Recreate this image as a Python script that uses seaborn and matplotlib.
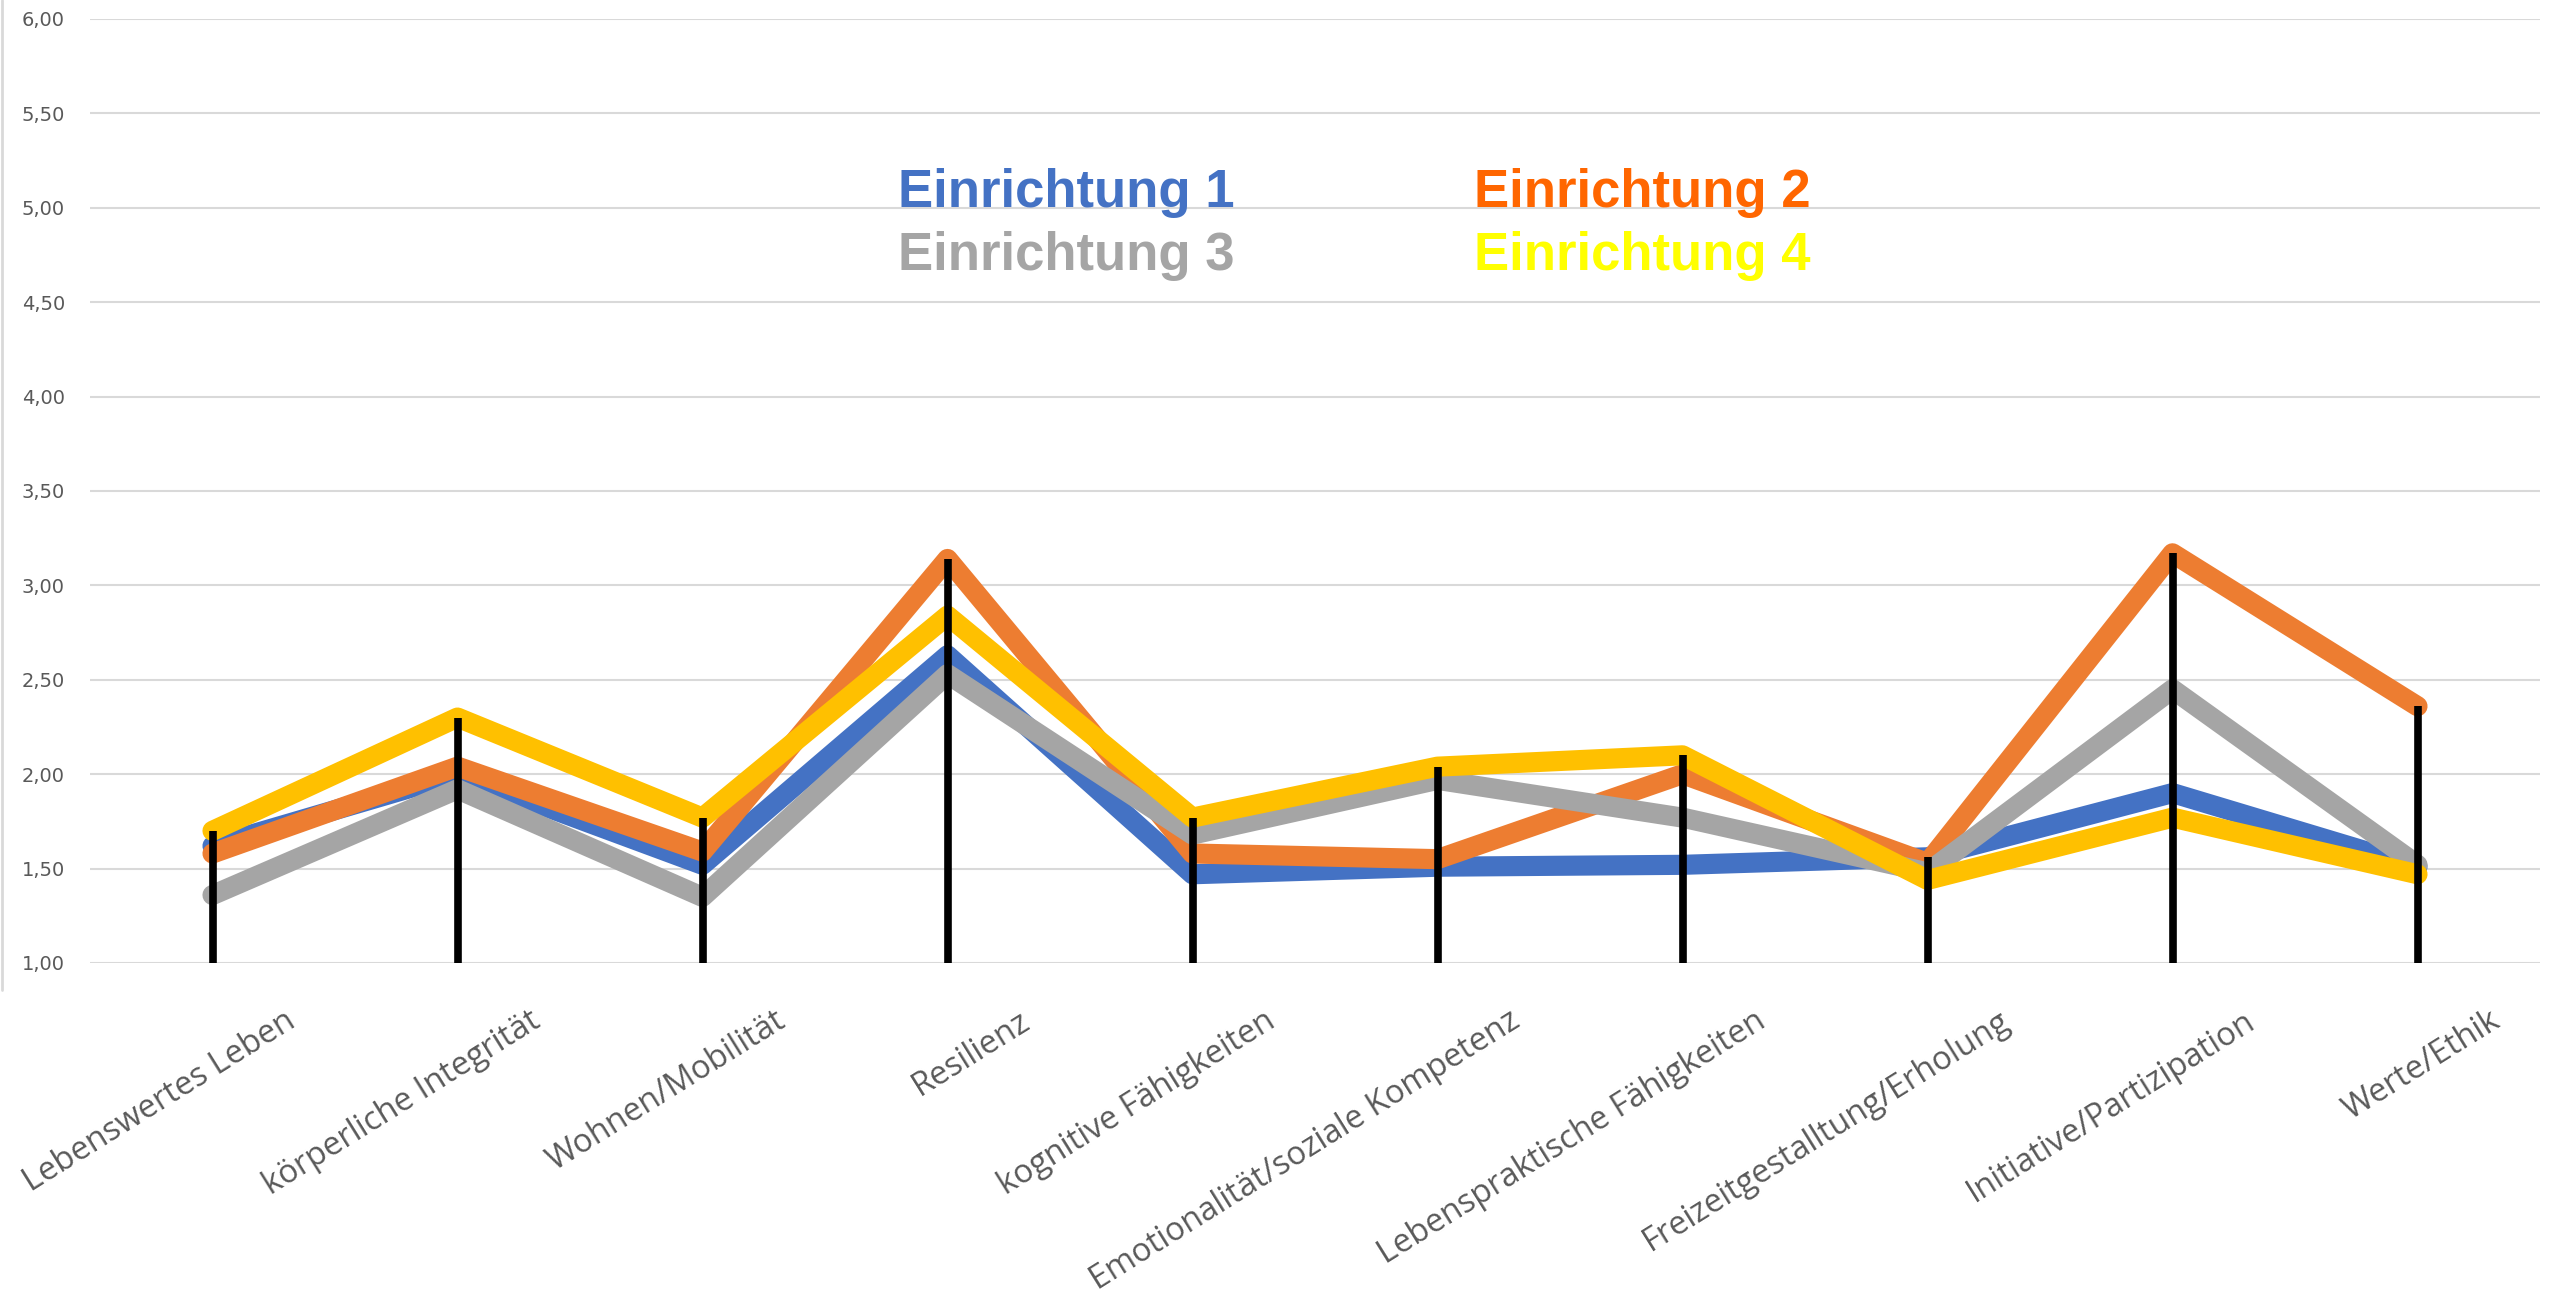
import pandas as pd
import seaborn as sns
import matplotlib.pyplot as plt
import matplotlib.transforms as mtransforms
from matplotlib.lines import Line2D

categories = ['Lebenswertes Leben', 'körperliche Integrität', 'Wohnen/Mobilität', 'Resilienz',
              'kognitive Fähigkeiten', 'Emotionalität/soziale Kompetenz', 'Lebenspraktische Fähigkeiten',
              'Freizeitgestalltung/Erholung', 'Initiative/Partizipation', 'Werte/Ethik']

einrichtung_1 = [1.62, 2.00, 1.52, 2.63, 1.47, 1.51, 1.52, 1.56, 1.90, 1.51]
einrichtung_2 = [1.58, 2.04, 1.59, 3.14, 1.58, 1.55, 2.00, 1.53, 3.17, 2.36]
einrichtung_3 = [1.36, 1.92, 1.35, 2.53, 1.68, 1.97, 1.77, 1.48, 2.45, 1.52]
einrichtung_4 = [1.70, 2.30, 1.77, 2.84, 1.77, 2.04, 2.10, 1.44, 1.77, 1.47]

series_names = ['Einrichtung 1', 'Einrichtung 2', 'Einrichtung 3', 'Einrichtung 4']
line_colors = ['#4472C4', '#ED7D31', '#A5A5A5', '#FFC000']
label_colors = ['#4472C4', '#FF6600', '#A5A5A5', '#FFFF00']

# long format for seaborn
rows = []
for name, vals in zip(series_names, [einrichtung_1, einrichtung_2, einrichtung_3, einrichtung_4]):
    for cat, v in zip(categories, vals):
        rows.append({'Bereich': cat, 'Wert': v, 'Einrichtung': name})
df = pd.DataFrame(rows)

sns.set_style('white')
plt.rcParams['font.family'] = ['Open Sans', 'DejaVu Sans']

fig = plt.figure(figsize=(25.52, 13.03), dpi=100)
ax = fig.add_axes([90 / 2552, 1 - 963 / 1303, 2450 / 2552, (963 - 19) / 1303])

sns.lineplot(data=df, x='Bereich', y='Wert', hue='Einrichtung', palette=line_colors,
             sort=False, linewidth=14.5, ax=ax, legend=False,
             solid_capstyle='round', solid_joinstyle='round')

# drop lines from the highest value down to the axis
max_vals = df.groupby('Bereich', sort=False)['Wert'].max()
ax.vlines(range(len(categories)), 1, max_vals.values, color='black', linewidth=5.5, zorder=5)

ax.set_xlim(-0.5, len(categories) - 0.5)
ax.set_ylim(1, 6)
ax.set_yticks([1 + 0.5 * i for i in range(11)])
ax.set_yticklabels([f'{1 + 0.5 * i:.2f}'.replace('.', ',') for i in range(11)],
                   fontsize=14, color='#595959', family='DejaVu Sans')
ax.yaxis.grid(True, color='#D9D9D9', linewidth=1.5)
ax.set_axisbelow(True)
for s in ax.spines.values():
    s.set_visible(False)
ax.tick_params(axis='y', length=0, pad=18)
ax.tick_params(axis='x', length=0, pad=40)
ax.set_xlabel('')
ax.set_ylabel('')

ax.set_xticks(range(len(categories)))
ax.set_xticklabels(categories, rotation=32, ha='right', va='center', rotation_mode='anchor',
                   fontsize=23.5, color='#595959')
offset = mtransforms.ScaledTranslation(0.8, 0, fig.dpi_scale_trans)
for lab in ax.get_xticklabels():
    lab.set_transform(lab.get_transform() + offset)

# coloured legend text
pos = [(898, 207), (1474, 207), (898, 270), (1474, 270)]
for name, col, (px, py) in zip(series_names, label_colors, pos):
    fig.text(px / 2552, 1 - py / 1303, name, color=col, fontsize=38, fontweight='bold',
             family='Liberation Sans', va='baseline', ha='left')

fig.add_artist(Line2D([1.5 / 2552, 1.5 / 2552], [1 - 990 / 1303, 1], color='#D9D9D9', linewidth=2))

fig.savefig('out.png', dpi=100)
